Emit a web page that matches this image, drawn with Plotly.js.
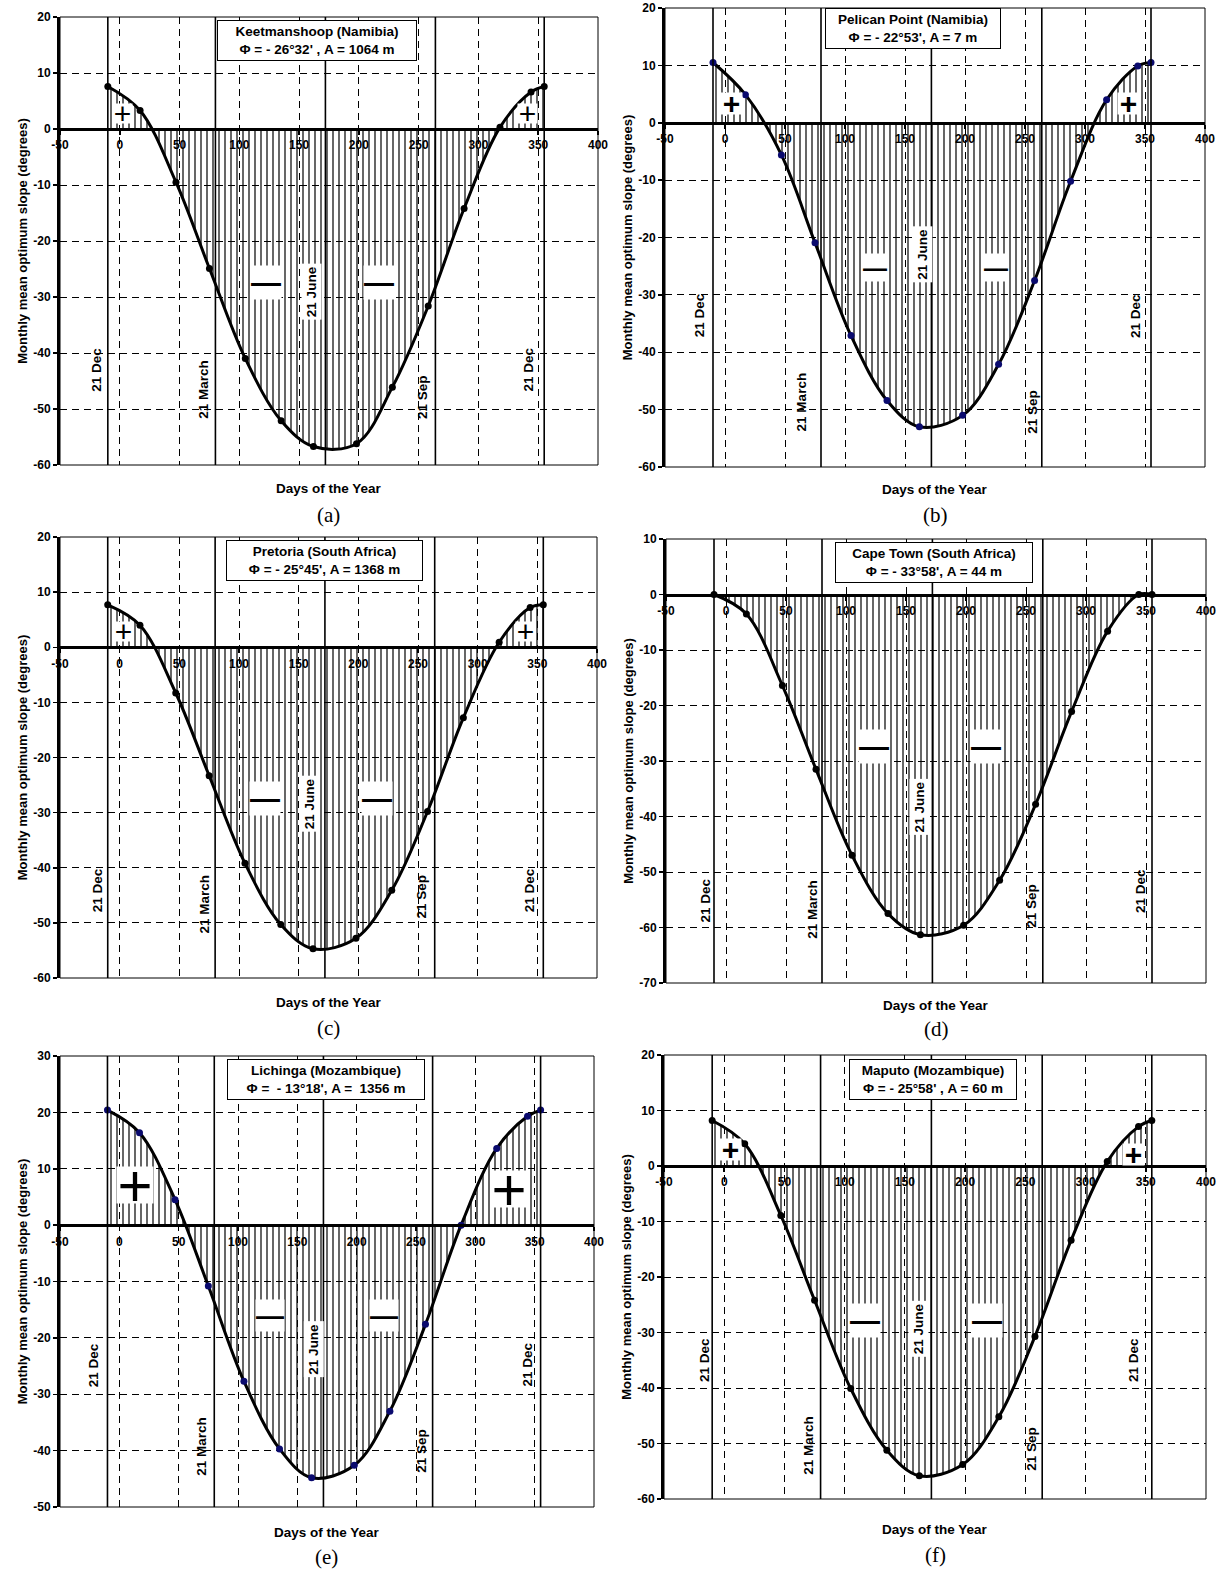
<!DOCTYPE html>
<html>
<head>
<meta charset="utf-8">
<script src="https://cdn.plot.ly/plotly-3.0.1.min.js"></script>
<style>html,body{margin:0;padding:0;background:#fff;}#chart{width:1219px;height:1571px;}</style>
</head>
<body>
<div id="chart"></div>
<script>
// ---------------- DATA ----------------
const days = [-10, 17, 47, 75, 105, 135, 162, 198, 228, 258, 288, 318, 344, 355];
const slopeKeetmanshoop = [7.6, 3.3, -9.5, -24.9, -41.0, -52.1, -56.7, -56.2, -46.1, -31.6, -14.2, 0.3, 6.6, 7.6];
const slopePelicanPoint = [10.5, 4.9, -5.6, -20.9, -37.1, -48.4, -53.0, -51.0, -42.1, -27.5, -10.2, 4.0, 9.9, 10.5];
const slopePretoria     = [7.7, 4.0, -8.3, -23.3, -39.2, -50.3, -54.7, -52.8, -44.1, -29.8, -12.8, 0.9, 7.2, 7.7];
const slopeCapeTown     = [0, -3.5, -16.4, -31.5, -47.0, -57.5, -61.3, -59.6, -51.5, -37.8, -21.1, -6.6, 0, 0];
const slopeLichinga     = [20.4, 16.4, 4.5, -10.8, -27.7, -39.7, -44.8, -42.6, -33.0, -17.6, 0, 13.6, 19.3, 20.4];
const slopeMaputo       = [8.2, 4.0, -8.9, -24.2, -40.1, -51.2, -55.8, -53.8, -45.2, -30.7, -13.4, 0.8, 7.1, 8.2];

const stationNames = ['Keetmanshoop (Namibia)', 'Pelican Point (Namibia)', 'Pretoria (South Africa)',
                      'Cape Town (South Africa)', 'Lichinga (Mozambique)', 'Maputo (Mozambique)'];
const stationInfo  = ["Φ = - 26°32' , A = 1064 m", "Φ = - 22°53', A = 7 m", "Φ = - 25°45', A = 1368 m",
                      "Φ = - 33°58', A = 44 m", "Φ =&nbsp; - 13°18', A =&nbsp; 1356 m", "Φ = - 25°58' , A = 60 m"];
const panelLetters = ['(a)', '(b)', '(c)', '(d)', '(e)', '(f)'];
const eventDays   = [-10, 80, 172, 264, 355];
const eventLabels = ['21 Dec', '21 March', '21 June', '21 Sep', '21 Dec'];
const xTickVals = [-50, 0, 50, 100, 150, 200, 250, 300, 350, 400];
const xAxisTitle = 'Days of the Year';
const yAxisTitle = 'Monthly mean optimum slope (degrees)';

// ---------------- LAYOUT CONFIG ----------------
const W = 1219, H = 1571;
const FONT = '"Liberation Sans", Arial, sans-serif';
// sign: [text, day, value, fontSize, weight, boxSize]
const panels = [
  {vals: slopeKeetmanshoop, yr: [-60, 20], px: [60, 598], py: [17, 465], mk: '#000',
   lx: [-19, 70, 160, 253, 342], ly: [0.2125, 0.169, 0.386, 0.1525, 0.2125],
   box: [165, 19.4, 200], xt: 24, letterY: 515,
   signs: [['+', 2, 2.7, 30, 400, 19], ['+', 341, 2.7, 30, 400, 19], ['—', 122, -27.4, 30, 700, 0], ['—', 217, -27.4, 30, 700, 0]]},
  {vals: slopePelicanPoint, yr: [-60, 20], px: [665, 1205], py: [8, 467], mk: '#0a0a6e',
   lx: [-21, 64, 164, 256, 342], ly: [0.33, 0.1425, 0.464, 0.121, 0.33],
   box: [157, 20, 176], xt: 22, letterY: 515,
   signs: [['+', 5, 3.4, 30, 700, 21], ['+', 336, 3.4, 30, 700, 21], ['—', 125, -25.2, 24, 700, 0], ['—', 226, -25.2, 24, 700, 0]]},
  {vals: slopePretoria, yr: [-60, 20], px: [60, 597], py: [537, 978], mk: '#000',
   lx: [-19, 71, 159, 253, 343], ly: [0.199, 0.1675, 0.395, 0.184, 0.199],
   box: [172, 19.4, 197], xt: 24, letterY: 1028,
   signs: [['+', 3, 2.9, 30, 400, 19], ['+', 340, 2.9, 30, 400, 19], ['—', 122, -27.4, 30, 700, 0], ['—', 216, -27.4, 30, 700, 0]]},
  {vals: slopeCapeTown, yr: [-70, 10], px: [666, 1206], py: [539, 983], mk: '#000',
   lx: [-17, 72, 161, 255, 346], ly: [0.185, 0.166, 0.396, 0.174, 0.2075],
   box: [173, 9.5, 198], xt: 22, letterY: 1029,
   signs: [['—', 123, -27.4, 30, 700, 0], ['—', 217, -27.4, 30, 700, 0]]},
  {vals: slopeLichinga, yr: [-50, 30], px: [60, 594], py: [1056, 1507], mk: '#0a0a6e',
   lx: [-21, 69, 164, 254, 344], ly: [0.315, 0.134, 0.351, 0.124, 0.315],
   box: [174, 29.5, 198], xt: 25, letterY: 1557,
   signs: [['+', 13, 7.2, 60, 400, 36], ['+', 328, 6.4, 60, 400, 36], ['—', 127, -16, 28, 700, 0], ['—', 223, -16, 28, 700, 0]]},
  {vals: slopeMaputo, yr: [-60, 20], px: [664, 1206], py: [1055, 1499], mk: '#000',
   lx: [-17, 70, 161, 255, 340], ly: [0.3125, 0.121, 0.3825, 0.114, 0.3125],
   box: [173, 19.3, 168], xt: 30, letterY: 1555,
   signs: [['+', 5, 2.9, 30, 700, 21], ['+', 340, 2.1, 30, 700, 21], ['—', 117, -27.9, 30, 700, 0], ['—', 218, -27.9, 30, 700, 0]]}
];

const traces = [];
const layout = {
  width: W, height: H, margin: {l: 0, r: 0, t: 0, b: 0},
  paper_bgcolor: '#fff', plot_bgcolor: '#fff', showlegend: false,
  font: {family: FONT, color: '#000'},
  shapes: [], annotations: []
};
const tickFont = {family: FONT, size: 12, color: '#000', weight: 'bold'};

panels.forEach((p, i) => {
  const n = i + 1;
  const xa = 'xaxis' + (n === 1 ? '' : n), ya = 'yaxis' + (n === 1 ? '' : n);
  const xr = 'x' + (n === 1 ? '' : n), yr = 'y' + (n === 1 ? '' : n);
  const xd = [p.px[0] / W, p.px[1] / W];
  const yd = [1 - p.py[1] / H, 1 - p.py[0] / H];
  const zeroPos = yd[0] + (0 - p.yr[0]) / (p.yr[1] - p.yr[0]) * (yd[1] - yd[0]);
  const yTickVals = [];
  for (let v = p.yr[0]; v <= p.yr[1]; v += 10) yTickVals.push(v);

  traces.push({
    x: days, y: p.vals, xaxis: xr, yaxis: yr, type: 'scatter', mode: 'lines+markers',
    line: {color: '#000', width: 3, shape: 'spline', smoothing: 1},
    marker: {color: p.mk, size: 7},
    fill: 'tozeroy', fillcolor: 'rgba(255,255,255,0)',
    fillpattern: {shape: '|', size: 6, solidity: 0.2, fgcolor: '#000', bgcolor: 'rgba(255,255,255,0)'},
    hoverinfo: 'skip'
  });

  layout[xa] = {
    domain: xd, range: [-50, 400], anchor: 'free', position: zeroPos, side: 'bottom',
    tickvals: xTickVals, ticktext: xTickVals.map(String),
    ticks: 'outside', ticklen: 4, tickwidth: 1.5, tickcolor: '#000',
    showline: true, linewidth: 3, linecolor: '#000',
    showgrid: true, gridcolor: '#000', gridwidth: 1, griddash: '7px,5px',
    zeroline: false, tickfont: tickFont, fixedrange: true
  };
  layout[ya] = {
    domain: yd, range: p.yr, anchor: xr,
    tickvals: yTickVals, ticktext: yTickVals.map(String),
    ticks: 'outside', ticklen: 4, tickwidth: 1.5, tickcolor: '#000',
    showline: true, linewidth: 3, linecolor: '#000',
    showgrid: true, gridcolor: '#000', gridwidth: 1, griddash: '7px,5px',
    zeroline: false, tickfont: tickFont,
    title: {text: yAxisTitle, standoff: 3, font: {family: FONT, size: 13, color: '#000', weight: 'bold'}},
    fixedrange: true
  };

  // frame
  layout.shapes.push({type: 'rect', xref: xr + ' domain', yref: yr + ' domain', x0: 0, x1: 1, y0: 0, y1: 1,
    line: {color: '#000', width: 1}, layer: 'above'});
  // solstice / equinox lines
  eventDays.forEach(d => layout.shapes.push({type: 'line', xref: xr, yref: yr + ' domain', x0: d, x1: d, y0: 0, y1: 1,
    line: {color: '#000', width: 1.6}, layer: 'above'}));

  // event labels
  eventDays.forEach((d, k) => layout.annotations.push({
    xref: xr, yref: yr + ' domain', x: p.lx[k], y: p.ly[k], text: eventLabels[k], showarrow: false,
    textangle: -90, xanchor: 'center', yanchor: 'middle',
    bgcolor: k === 2 ? '#fff' : 'rgba(0,0,0,0)', borderpad: 2,
    font: {family: FONT, size: 13.5, color: '#000', weight: 'bold'}
  }));

  // station box
  layout.annotations.push({
    xref: xr, yref: yr, x: p.box[0], y: p.box[1], xanchor: 'center', yanchor: 'top',
    text: stationNames[i] + '<br>' + stationInfo[i], showarrow: false, align: 'center',
    width: p.box[2] - 8, height: 33, bgcolor: '#fff', bordercolor: '#000', borderwidth: 1, borderpad: 3,
    font: {family: FONT, size: 13.5, color: '#000', weight: 'bold'}
  });

  // sign markers (+ / —)
  p.signs.forEach(s => {
    const a = {
      xref: xr, yref: yr, x: s[1], y: s[2], text: s[0], showarrow: false, xanchor: 'center', yanchor: 'middle',
      bgcolor: '#fff', borderpad: 0, valign: 'middle', align: 'center',
      font: {family: FONT, size: s[3], color: '#000', weight: s[4]}
    };
    if (s[5]) { a.width = s[5]; a.height = s[5]; }
    layout.annotations.push(a);
  });

  // x-axis title
  layout.annotations.push({
    xref: xr + ' domain', yref: yr + ' domain', x: 0.5, y: 0, yshift: -p.xt, xanchor: 'center', yanchor: 'middle',
    text: xAxisTitle, showarrow: false, font: {family: FONT, size: 13.5, color: '#000', weight: 'bold'}
  });

  // panel letter
  layout.annotations.push({
    xref: 'paper', yref: 'paper', x: (p.px[0] + p.px[1]) / 2 / W, y: 1 - p.letterY / H,
    xanchor: 'center', yanchor: 'middle', text: panelLetters[i], showarrow: false,
    font: {family: '"Liberation Serif", "Times New Roman", serif', size: 21, color: '#000'}
  });
});

Plotly.newPlot('chart', traces, layout, {staticPlot: true, displayModeBar: false});
</script>
</body>
</html>
